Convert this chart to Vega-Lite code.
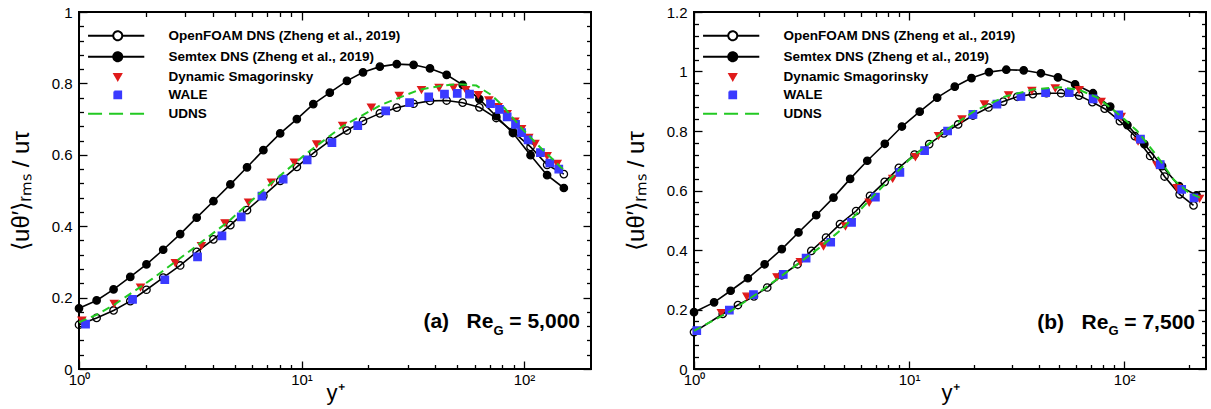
{
"$schema": "https://vega.github.io/schema/vega-lite/v6.json",
"padding": {"left": 8, "top": 4, "right": 0, "bottom": 0},
"spacing": 30,
"config": {
  "view": {"stroke": "black", "strokeWidth": 2},
  "axis": {"domain": false, "grid": false, "tickColor": "black", "tickWidth": 1.3, "labelFont": "Liberation Sans", "labelFontSize": 15, "labelColor": "black", "titleFont": "Liberation Sans", "titleFontWeight": "normal", "titleColor": "black", "labelFlush": false, "labelOverlap": false},
  "legend": {"symbolOpacity": 1}
},
"datasets": {
  "a": [
    {"s":"OF","x":1.00,"y":0.124},{"s":"OF","x":1.20,"y":0.143},{"s":"OF","x":1.43,"y":0.164},{"s":"OF","x":1.70,"y":0.190},{"s":"OF","x":2.01,"y":0.222},{"s":"OF","x":2.39,"y":0.256},{"s":"OF","x":2.85,"y":0.290},{"s":"OF","x":3.38,"y":0.328},{"s":"OF","x":4.02,"y":0.363},{"s":"OF","x":4.79,"y":0.403},{"s":"OF","x":5.69,"y":0.445},{"s":"OF","x":6.74,"y":0.485},{"s":"OF","x":8.02,"y":0.527},{"s":"OF","x":9.53,"y":0.566},{"s":"OF","x":11.3,"y":0.605},{"s":"OF","x":13.4,"y":0.639},{"s":"OF","x":16.0,"y":0.668},{"s":"OF","x":18.9,"y":0.695},{"s":"OF","x":22.5,"y":0.716},{"s":"OF","x":26.8,"y":0.732},{"s":"OF","x":31.9,"y":0.743},{"s":"OF","x":37.8,"y":0.751},{"s":"OF","x":44.9,"y":0.752},{"s":"OF","x":53.0,"y":0.746},{"s":"OF","x":63.0,"y":0.733},{"s":"OF","x":75.0,"y":0.703},{"s":"OF","x":89.2,"y":0.665},{"s":"OF","x":107,"y":0.622},{"s":"OF","x":127,"y":0.572},{"s":"OF","x":151,"y":0.546},
    {"s":"SX","x":1.00,"y":0.170},{"s":"SX","x":1.20,"y":0.192},{"s":"SX","x":1.43,"y":0.223},{"s":"SX","x":1.70,"y":0.258},{"s":"SX","x":2.01,"y":0.293},{"s":"SX","x":2.39,"y":0.334},{"s":"SX","x":2.85,"y":0.378},{"s":"SX","x":3.38,"y":0.424},{"s":"SX","x":4.02,"y":0.470},{"s":"SX","x":4.79,"y":0.517},{"s":"SX","x":5.69,"y":0.565},{"s":"SX","x":6.74,"y":0.613},{"s":"SX","x":8.02,"y":0.660},{"s":"SX","x":9.53,"y":0.700},{"s":"SX","x":11.3,"y":0.742},{"s":"SX","x":13.4,"y":0.774},{"s":"SX","x":16.0,"y":0.807},{"s":"SX","x":18.9,"y":0.831},{"s":"SX","x":22.5,"y":0.847},{"s":"SX","x":26.8,"y":0.854},{"s":"SX","x":31.9,"y":0.852},{"s":"SX","x":37.8,"y":0.842},{"s":"SX","x":44.9,"y":0.824},{"s":"SX","x":53.0,"y":0.796},{"s":"SX","x":63.0,"y":0.756},{"s":"SX","x":75.0,"y":0.708},{"s":"SX","x":89.2,"y":0.661},{"s":"SX","x":107,"y":0.599},{"s":"SX","x":127,"y":0.543},{"s":"SX","x":151,"y":0.507},
    {"s":"DS","x":1.03,"y":0.136},{"s":"DS","x":1.44,"y":0.183},{"s":"DS","x":1.89,"y":0.229},{"s":"DS","x":2.71,"y":0.297},{"s":"DS","x":3.55,"y":0.345},{"s":"DS","x":4.53,"y":0.409},{"s":"DS","x":5.78,"y":0.467},{"s":"DS","x":7.32,"y":0.523},{"s":"DS","x":9.28,"y":0.579},{"s":"DS","x":11.7,"y":0.630},{"s":"DS","x":15.3,"y":0.682},{"s":"DS","x":20.6,"y":0.733},{"s":"DS","x":27.5,"y":0.766},{"s":"DS","x":34.6,"y":0.782},{"s":"DS","x":41.5,"y":0.788},{"s":"DS","x":48.2,"y":0.788},{"s":"DS","x":54.7,"y":0.782},{"s":"DS","x":62.3,"y":0.768},{"s":"DS","x":69.5,"y":0.753},{"s":"DS","x":76.5,"y":0.734},{"s":"DS","x":84.0,"y":0.715},{"s":"DS","x":91.0,"y":0.694},{"s":"DS","x":97.5,"y":0.673},{"s":"DS","x":105,"y":0.648},{"s":"DS","x":112,"y":0.631},{"s":"DS","x":127,"y":0.597},{"s":"DS","x":141,"y":0.575},
    {"s":"WALE","x":1.07,"y":0.126},{"s":"WALE","x":1.74,"y":0.195},{"s":"WALE","x":2.43,"y":0.250},{"s":"WALE","x":3.41,"y":0.314},{"s":"WALE","x":4.39,"y":0.373},{"s":"WALE","x":5.36,"y":0.426},{"s":"WALE","x":6.64,"y":0.484},{"s":"WALE","x":8.27,"y":0.532},{"s":"WALE","x":10.6,"y":0.586},{"s":"WALE","x":13.7,"y":0.634},{"s":"WALE","x":17.9,"y":0.682},{"s":"WALE","x":23.9,"y":0.723},{"s":"WALE","x":30.6,"y":0.746},{"s":"WALE","x":37.3,"y":0.762},{"s":"WALE","x":43.9,"y":0.770},{"s":"WALE","x":50.1,"y":0.772},{"s":"WALE","x":56.9,"y":0.770},{"s":"WALE","x":70.7,"y":0.743},{"s":"WALE","x":77.6,"y":0.727},{"s":"WALE","x":84.0,"y":0.706},{"s":"WALE","x":91.6,"y":0.685},{"s":"WALE","x":97.5,"y":0.662},{"s":"WALE","x":104.3,"y":0.642},{"s":"WALE","x":118.5,"y":0.606},{"s":"WALE","x":130.6,"y":0.577},{"s":"WALE","x":143.3,"y":0.560},
    {"s":"UDNS","x":1.00,"y":0.131},{"s":"UDNS","x":1.20,"y":0.152},{"s":"UDNS","x":1.44,"y":0.180},{"s":"UDNS","x":2.14,"y":0.253},{"s":"UDNS","x":3.17,"y":0.332},{"s":"UDNS","x":4.71,"y":0.414},{"s":"UDNS","x":6.98,"y":0.510},{"s":"UDNS","x":10.4,"y":0.601},{"s":"UDNS","x":15.3,"y":0.680},{"s":"UDNS","x":22.8,"y":0.740},{"s":"UDNS","x":33.8,"y":0.782},{"s":"UDNS","x":42.8,"y":0.794},{"s":"UDNS","x":50.1,"y":0.798},{"s":"UDNS","x":61.1,"y":0.794},{"s":"UDNS","x":71.5,"y":0.767},{"s":"UDNS","x":79.7,"y":0.739},{"s":"UDNS","x":98.0,"y":0.673},{"s":"UDNS","x":120,"y":0.617},{"s":"UDNS","x":146,"y":0.566},{"s":"UDNS","x":150,"y":0.560}
  ],
  "b": [
    {"s":"OF","x":1.00,"y":0.124},{"s":"OF","x":1.36,"y":0.185},{"s":"OF","x":1.60,"y":0.215},{"s":"OF","x":1.90,"y":0.244},{"s":"OF","x":2.19,"y":0.274},{"s":"OF","x":2.56,"y":0.315},{"s":"OF","x":3.03,"y":0.352},{"s":"OF","x":3.51,"y":0.397},{"s":"OF","x":4.11,"y":0.442},{"s":"OF","x":4.77,"y":0.487},{"s":"OF","x":5.67,"y":0.531},{"s":"OF","x":6.58,"y":0.582},{"s":"OF","x":7.70,"y":0.629},{"s":"OF","x":8.96,"y":0.676},{"s":"OF","x":10.6,"y":0.721},{"s":"OF","x":12.4,"y":0.756},{"s":"OF","x":14.5,"y":0.792},{"s":"OF","x":16.9,"y":0.822},{"s":"OF","x":19.8,"y":0.852},{"s":"OF","x":23.4,"y":0.879},{"s":"OF","x":27.4,"y":0.899},{"s":"OF","x":31.8,"y":0.915},{"s":"OF","x":37.6,"y":0.924},{"s":"OF","x":43.5,"y":0.927},{"s":"OF","x":50.9,"y":0.927},{"s":"OF","x":61.7,"y":0.919},{"s":"OF","x":71.1,"y":0.897},{"s":"OF","x":81.1,"y":0.875},{"s":"OF","x":95.5,"y":0.833},{"s":"OF","x":112,"y":0.783},{"s":"OF","x":132,"y":0.716},{"s":"OF","x":154,"y":0.647},{"s":"OF","x":181,"y":0.587},{"s":"OF","x":210,"y":0.550},
    {"s":"SX","x":1.00,"y":0.191},{"s":"SX","x":1.24,"y":0.224},{"s":"SX","x":1.48,"y":0.263},{"s":"SX","x":1.78,"y":0.305},{"s":"SX","x":2.13,"y":0.352},{"s":"SX","x":2.56,"y":0.403},{"s":"SX","x":3.06,"y":0.459},{"s":"SX","x":3.70,"y":0.517},{"s":"SX","x":4.45,"y":0.576},{"s":"SX","x":5.32,"y":0.639},{"s":"SX","x":6.39,"y":0.700},{"s":"SX","x":7.71,"y":0.757},{"s":"SX","x":9.26,"y":0.815},{"s":"SX","x":11.2,"y":0.865},{"s":"SX","x":13.5,"y":0.912},{"s":"SX","x":16.3,"y":0.949},{"s":"SX","x":19.5,"y":0.978},{"s":"SX","x":23.5,"y":0.998},{"s":"SX","x":28.3,"y":1.006},{"s":"SX","x":34.1,"y":1.004},{"s":"SX","x":41.0,"y":0.994},{"s":"SX","x":49.2,"y":0.980},{"s":"SX","x":59.1,"y":0.957},{"s":"SX","x":71.6,"y":0.927},{"s":"SX","x":86.1,"y":0.882},{"s":"SX","x":103.5,"y":0.820},{"s":"SX","x":124,"y":0.756},{"s":"SX","x":150,"y":0.682},{"s":"SX","x":180,"y":0.615},{"s":"SX","x":217,"y":0.584},
    {"s":"DS","x":1.34,"y":0.189},{"s":"DS","x":1.76,"y":0.244},{"s":"DS","x":2.43,"y":0.309},{"s":"DS","x":3.12,"y":0.360},{"s":"DS","x":4.00,"y":0.413},{"s":"DS","x":5.06,"y":0.480},{"s":"DS","x":6.52,"y":0.560},{"s":"DS","x":8.39,"y":0.640},{"s":"DS","x":10.7,"y":0.713},{"s":"DS","x":13.7,"y":0.784},{"s":"DS","x":17.6,"y":0.840},{"s":"DS","x":22.4,"y":0.890},{"s":"DS","x":29.0,"y":0.921},{"s":"DS","x":37.2,"y":0.936},{"s":"DS","x":47.8,"y":0.944},{"s":"DS","x":61.7,"y":0.938},{"s":"DS","x":78.1,"y":0.899},{"s":"DS","x":96.8,"y":0.848},{"s":"DS","x":116,"y":0.766},{"s":"DS","x":142,"y":0.685},{"s":"DS","x":176,"y":0.609},{"s":"DS","x":224,"y":0.573},
    {"s":"WALE","x":1.03,"y":0.129},{"s":"WALE","x":1.46,"y":0.198},{"s":"WALE","x":1.89,"y":0.250},{"s":"WALE","x":2.60,"y":0.318},{"s":"WALE","x":3.32,"y":0.373},{"s":"WALE","x":4.32,"y":0.426},{"s":"WALE","x":5.40,"y":0.493},{"s":"WALE","x":6.97,"y":0.578},{"s":"WALE","x":9.06,"y":0.661},{"s":"WALE","x":11.8,"y":0.734},{"s":"WALE","x":15.1,"y":0.800},{"s":"WALE","x":19.8,"y":0.856},{"s":"WALE","x":25.6,"y":0.890},{"s":"WALE","x":33.1,"y":0.916},{"s":"WALE","x":43.1,"y":0.929},{"s":"WALE","x":55.5,"y":0.929},{"s":"WALE","x":71.7,"y":0.908},{"s":"WALE","x":94.3,"y":0.854},{"s":"WALE","x":119,"y":0.773},{"s":"WALE","x":147,"y":0.687},{"s":"WALE","x":185,"y":0.604},{"s":"WALE","x":211,"y":0.575},
    {"s":"UDNS","x":1.00,"y":0.128},{"s":"UDNS","x":1.50,"y":0.197},{"s":"UDNS","x":2.00,"y":0.257},{"s":"UDNS","x":3.00,"y":0.350},{"s":"UDNS","x":4.00,"y":0.418},{"s":"UDNS","x":5.00,"y":0.478},{"s":"UDNS","x":7.00,"y":0.590},{"s":"UDNS","x":10.0,"y":0.703},{"s":"UDNS","x":14.0,"y":0.790},{"s":"UDNS","x":20.0,"y":0.866},{"s":"UDNS","x":28.0,"y":0.916},{"s":"UDNS","x":38.0,"y":0.940},{"s":"UDNS","x":50.0,"y":0.947},{"s":"UDNS","x":62.0,"y":0.938},{"s":"UDNS","x":75.0,"y":0.912},{"s":"UDNS","x":88.0,"y":0.874},{"s":"UDNS","x":100,"y":0.840},{"s":"UDNS","x":115,"y":0.800},{"s":"UDNS","x":142,"y":0.716},{"s":"UDNS","x":170,"y":0.636},{"s":"UDNS","x":200,"y":0.592},{"s":"UDNS","x":230,"y":0.573}
  ]
},
"hconcat": [
 {
  "width": 512, "height": 357,
  "resolve": {"scale": {"shape": "independent", "size": "independent", "fill": "independent", "stroke": "independent", "strokeDash": "independent"}, "axis": {"x": "independent", "y": "independent"}},
  "layer": [
   {
    "data": {"name": "a"},
    "transform": [{"filter": "datum.s == 'OF' || datum.s == 'SX'"}],
    "mark": {"type": "line", "stroke": "black", "strokeWidth": 1.6},
    "encoding": {
      "x": {"field": "x", "type": "quantitative", "scale": {"type": "log", "domain": [1, 200], "nice": false},
            "axis": {"orient": "bottom", "values": [1, 10, 100], "labelExpr": "datum.value == 1 ? '10⁰' : datum.value == 10 ? '10¹' : '10²'", "tickSize": -8, "labelPadding": 11, "title": "y⁺", "titleFontSize": 22, "titleY": 30.5, "titleBaseline": "alphabetic"}},
      "y": {"field": "y", "type": "quantitative", "scale": {"domain": [0, 1], "nice": false},
            "axis": {"orient": "left", "values": [0, 0.2, 0.4, 0.6, 0.8, 1], "labelExpr": "format(datum.value, '~g')", "tickSize": -8, "labelPadding": 15, "title": "⟨uθ′⟩ᵣₘₛ / uτ", "titleFontSize": 24, "titleX": -58, "titleBaseline": "middle"}},
      "detail": {"field": "s"}
    }
   },
   {
    "data": {"name": "a"},
    "transform": [{"filter": "datum.s != 'UDNS'"}],
    "mark": {"type": "point", "strokeWidth": 1.3, "opacity": 1},
    "encoding": {
      "x": {"field": "x", "type": "quantitative", "axis": {"orient": "bottom", "values": [2,3,4,5,6,7,8,9,20,30,40,50,60,70,80,90], "tickSize": -4.5, "labels": false, "title": null}},
      "y": {"field": "y", "type": "quantitative", "axis": {"orient": "left", "values": [0.04,0.08,0.12,0.16,0.24,0.28,0.32,0.36,0.44,0.48,0.52,0.56,0.64,0.68,0.72,0.76,0.84,0.88,0.92,0.96], "tickSize": -4.5, "labels": false, "title": null}},
      "shape": {"field": "s", "scale": {"domain": ["OF", "SX", "DS", "WALE"], "range": ["circle", "circle", "triangle-down", "square"]}, "legend": null},
      "size": {"field": "s", "scale": {"domain": ["OF", "SX", "DS", "WALE"], "range": [55, 55, 42, 45]}, "legend": null},
      "fill": {"field": "s", "scale": {"domain": ["OF", "SX", "DS", "WALE"], "range": ["transparent", "black", "#e01b1b", "#3a3aff"]}, "legend": null},
      "stroke": {"field": "s", "scale": {"domain": ["OF", "SX", "DS", "WALE"], "range": ["black", "black", "#e01b1b", "#3a3aff"]}, "legend": null}
    }
   },
   {
    "data": {"name": "a"},
    "transform": [{"filter": "datum.s == 'UDNS'"}],
    "mark": {"type": "line", "stroke": "#22c922", "strokeWidth": 2, "strokeDash": [8, 5]},
    "encoding": {
      "x": {"field": "x", "type": "quantitative", "axis": null},
      "y": {"field": "y", "type": "quantitative", "axis": null}
    }
   },
   {
    "data": {"name": "a"},
    "mark": {"type": "point", "opacity": 0},
    "encoding": {
      "x": {"field": "x", "type": "quantitative", "axis": {"orient": "top", "values": [1, 10, 100], "tickSize": -8, "labels": false, "title": null}},
      "y": {"field": "y", "type": "quantitative", "axis": {"orient": "right", "values": [0, 0.2, 0.4, 0.6, 0.8, 1], "tickSize": -8, "labels": false, "title": null}},
      "shape": {"field": "s", "scale": {"domain": ["OF", "SX", "DS", "WALE", "UDNS"], "range": ["M-6.6,0H-1M1,0H5.9M-1,0A1,1,0,1,0,1,0A1,1,0,1,0,-1,0", "M-6.6,0H5.9M-1,0A1,1,0,1,0,1,0A1,1,0,1,0,-1,0", "M-0.75,-0.6L0.75,-0.6L0,0.7Z", "M-0.75,-0.75H0.75V0.75H-0.75Z", "M-6.6,0H5.9"]},
        "legend": {"orient": "none", "legendX": 30, "legendY": 17, "title": null, "padding": 0, "symbolSize": 81, "symbolStrokeWidth": 2, "symbolOffset": 2, "labelOffset": 44, "rowPadding": 3, "labelFont": "Liberation Sans", "labelFontSize": 13.5, "labelFontWeight": "bold", "labelColor": "black", "labelLimit": 400, "symbolOpacity": 1,
          "labelExpr": "datum.value == 'OF' ? 'OpenFOAM DNS (Zheng et al., 2019)' : datum.value == 'SX' ? 'Semtex DNS (Zheng et al., 2019)' : datum.value == 'DS' ? 'Dynamic Smagorinsky' : datum.value"}},
      "fill": {"field": "s", "scale": {"domain": ["OF", "SX", "DS", "WALE", "UDNS"], "range": ["white", "black", "#e01b1b", "#3a3aff", "transparent"]}},
      "stroke": {"field": "s", "scale": {"domain": ["OF", "SX", "DS", "WALE", "UDNS"], "range": ["black", "black", "#e01b1b", "#3a3aff", "#22c922"]}},
      "strokeDash": {"field": "s", "scale": {"domain": ["OF", "SX", "DS", "WALE", "UDNS"], "range": [[1, 0], [1, 0], [1, 0], [1, 0], [14, 7]]}}
    }
   },
   {
    "data": {"values": [{}]},
    "mark": {"type": "text", "text": "(a)\u00a0\u00a0\u00a0Re", "align": "right", "baseline": "alphabetic", "dx": -97.6, "font": "Liberation Sans", "fontWeight": "bold", "fontSize": 21, "color": "black"},
    "encoding": {
      "x": {"datum": 200, "type": "quantitative", "axis": {"orient": "top", "values": [2,3,4,5,6,7,8,9,20,30,40,50,60,70,80,90], "tickSize": -4.5, "labels": false, "title": null}},
      "y": {"datum": 0.1136, "type": "quantitative", "axis": {"orient": "right", "values": [0.04,0.08,0.12,0.16,0.24,0.28,0.32,0.36,0.44,0.48,0.52,0.56,0.64,0.68,0.72,0.76,0.84,0.88,0.92,0.96], "tickSize": -4.5, "labels": false, "title": null}}
    }
   },
   {
    "data": {"values": [{}]},
    "mark": {"type": "text", "text": "G", "align": "right", "baseline": "alphabetic", "dx": -87.5, "dy": 6.5, "font": "Liberation Sans", "fontWeight": "bold", "fontSize": 13, "color": "black"},
    "encoding": {"x": {"datum": 200, "type": "quantitative", "axis": null}, "y": {"datum": 0.1136, "type": "quantitative", "axis": null}}
   },
   {
    "data": {"values": [{}]},
    "mark": {"type": "text", "text": "\u00a0=\u00a05,000", "align": "right", "baseline": "alphabetic", "dx": -11, "font": "Liberation Sans", "fontWeight": "bold", "fontSize": 21, "color": "black"},
    "encoding": {"x": {"datum": 200, "type": "quantitative", "axis": null}, "y": {"datum": 0.1136, "type": "quantitative", "axis": null}}
   }
  ]
 },
 {
  "width": 512, "height": 357,
  "resolve": {"scale": {"shape": "independent", "size": "independent", "fill": "independent", "stroke": "independent", "strokeDash": "independent"}, "axis": {"x": "independent", "y": "independent"}},
  "layer": [
   {
    "data": {"name": "b"},
    "transform": [{"filter": "datum.s == 'OF' || datum.s == 'SX'"}],
    "mark": {"type": "line", "stroke": "black", "strokeWidth": 1.6},
    "encoding": {
      "x": {"field": "x", "type": "quantitative", "scale": {"type": "log", "domain": [1, 240], "nice": false},
            "axis": {"orient": "bottom", "values": [1, 10, 100], "labelExpr": "datum.value == 1 ? '10⁰' : datum.value == 10 ? '10¹' : '10²'", "tickSize": -8, "labelPadding": 11, "title": "y⁺", "titleFontSize": 22, "titleY": 30.5, "titleBaseline": "alphabetic"}},
      "y": {"field": "y", "type": "quantitative", "scale": {"domain": [0, 1.2], "nice": false},
            "axis": {"orient": "left", "values": [0, 0.2, 0.4, 0.6, 0.8, 1, 1.2], "labelExpr": "format(datum.value, '~g')", "tickSize": -8, "labelPadding": 15, "title": "⟨uθ′⟩ᵣₘₛ / uτ", "titleFontSize": 24, "titleX": -58, "titleBaseline": "middle"}},
      "detail": {"field": "s"}
    }
   },
   {
    "data": {"name": "b"},
    "transform": [{"filter": "datum.s != 'UDNS'"}],
    "mark": {"type": "point", "strokeWidth": 1.3, "opacity": 1},
    "encoding": {
      "x": {"field": "x", "type": "quantitative", "axis": {"orient": "bottom", "values": [2,3,4,5,6,7,8,9,20,30,40,50,60,70,80,90,200], "tickSize": -4.5, "labels": false, "title": null}},
      "y": {"field": "y", "type": "quantitative", "axis": {"orient": "left", "values": [0.04,0.08,0.12,0.16,0.24,0.28,0.32,0.36,0.44,0.48,0.52,0.56,0.64,0.68,0.72,0.76,0.84,0.88,0.92,0.96,1.04,1.08,1.12,1.16], "tickSize": -4.5, "labels": false, "title": null}},
      "shape": {"field": "s", "scale": {"domain": ["OF", "SX", "DS", "WALE"], "range": ["circle", "circle", "triangle-down", "square"]}, "legend": null},
      "size": {"field": "s", "scale": {"domain": ["OF", "SX", "DS", "WALE"], "range": [55, 55, 42, 45]}, "legend": null},
      "fill": {"field": "s", "scale": {"domain": ["OF", "SX", "DS", "WALE"], "range": ["transparent", "black", "#e01b1b", "#3a3aff"]}, "legend": null},
      "stroke": {"field": "s", "scale": {"domain": ["OF", "SX", "DS", "WALE"], "range": ["black", "black", "#e01b1b", "#3a3aff"]}, "legend": null}
    }
   },
   {
    "data": {"name": "b"},
    "transform": [{"filter": "datum.s == 'UDNS'"}],
    "mark": {"type": "line", "stroke": "#22c922", "strokeWidth": 2, "strokeDash": [8, 5]},
    "encoding": {
      "x": {"field": "x", "type": "quantitative", "axis": null},
      "y": {"field": "y", "type": "quantitative", "axis": null}
    }
   },
   {
    "data": {"name": "b"},
    "mark": {"type": "point", "opacity": 0},
    "encoding": {
      "x": {"field": "x", "type": "quantitative", "axis": {"orient": "top", "values": [1, 10, 100], "tickSize": -8, "labels": false, "title": null}},
      "y": {"field": "y", "type": "quantitative", "axis": {"orient": "right", "values": [0, 0.2, 0.4, 0.6, 0.8, 1, 1.2], "tickSize": -8, "labels": false, "title": null}},
      "shape": {"field": "s", "scale": {"domain": ["OF", "SX", "DS", "WALE", "UDNS"], "range": ["M-6.6,0H-1M1,0H5.9M-1,0A1,1,0,1,0,1,0A1,1,0,1,0,-1,0", "M-6.6,0H5.9M-1,0A1,1,0,1,0,1,0A1,1,0,1,0,-1,0", "M-0.75,-0.6L0.75,-0.6L0,0.7Z", "M-0.75,-0.75H0.75V0.75H-0.75Z", "M-6.6,0H5.9"]},
        "legend": {"orient": "none", "legendX": 30, "legendY": 17, "title": null, "padding": 0, "symbolSize": 81, "symbolStrokeWidth": 2, "symbolOffset": 2, "labelOffset": 44, "rowPadding": 3, "labelFont": "Liberation Sans", "labelFontSize": 13.5, "labelFontWeight": "bold", "labelColor": "black", "labelLimit": 400, "symbolOpacity": 1,
          "labelExpr": "datum.value == 'OF' ? 'OpenFOAM DNS (Zheng et al., 2019)' : datum.value == 'SX' ? 'Semtex DNS (Zheng et al., 2019)' : datum.value == 'DS' ? 'Dynamic Smagorinsky' : datum.value"}},
      "fill": {"field": "s", "scale": {"domain": ["OF", "SX", "DS", "WALE", "UDNS"], "range": ["white", "black", "#e01b1b", "#3a3aff", "transparent"]}},
      "stroke": {"field": "s", "scale": {"domain": ["OF", "SX", "DS", "WALE", "UDNS"], "range": ["black", "black", "#e01b1b", "#3a3aff", "#22c922"]}},
      "strokeDash": {"field": "s", "scale": {"domain": ["OF", "SX", "DS", "WALE", "UDNS"], "range": [[1, 0], [1, 0], [1, 0], [1, 0], [14, 7]]}}
    }
   },
   {
    "data": {"values": [{}]},
    "mark": {"type": "text", "text": "(b)\u00a0\u00a0\u00a0Re", "align": "right", "baseline": "alphabetic", "dx": -97.6, "font": "Liberation Sans", "fontWeight": "bold", "fontSize": 21, "color": "black"},
    "encoding": {
      "x": {"datum": 240, "type": "quantitative", "axis": {"orient": "top", "values": [2,3,4,5,6,7,8,9,20,30,40,50,60,70,80,90,200], "tickSize": -4.5, "labels": false, "title": null}},
      "y": {"datum": 0.1359, "type": "quantitative", "axis": {"orient": "right", "values": [0.04,0.08,0.12,0.16,0.24,0.28,0.32,0.36,0.44,0.48,0.52,0.56,0.64,0.68,0.72,0.76,0.84,0.88,0.92,0.96,1.04,1.08,1.12,1.16], "tickSize": -4.5, "labels": false, "title": null}}
    }
   },
   {
    "data": {"values": [{}]},
    "mark": {"type": "text", "text": "G", "align": "right", "baseline": "alphabetic", "dx": -87.5, "dy": 6.5, "font": "Liberation Sans", "fontWeight": "bold", "fontSize": 13, "color": "black"},
    "encoding": {"x": {"datum": 240, "type": "quantitative", "axis": null}, "y": {"datum": 0.1359, "type": "quantitative", "axis": null}}
   },
   {
    "data": {"values": [{}]},
    "mark": {"type": "text", "text": "\u00a0=\u00a07,500", "align": "right", "baseline": "alphabetic", "dx": -11, "font": "Liberation Sans", "fontWeight": "bold", "fontSize": 21, "color": "black"},
    "encoding": {"x": {"datum": 240, "type": "quantitative", "axis": null}, "y": {"datum": 0.1359, "type": "quantitative", "axis": null}}
   }
  ]
 }
]
}
